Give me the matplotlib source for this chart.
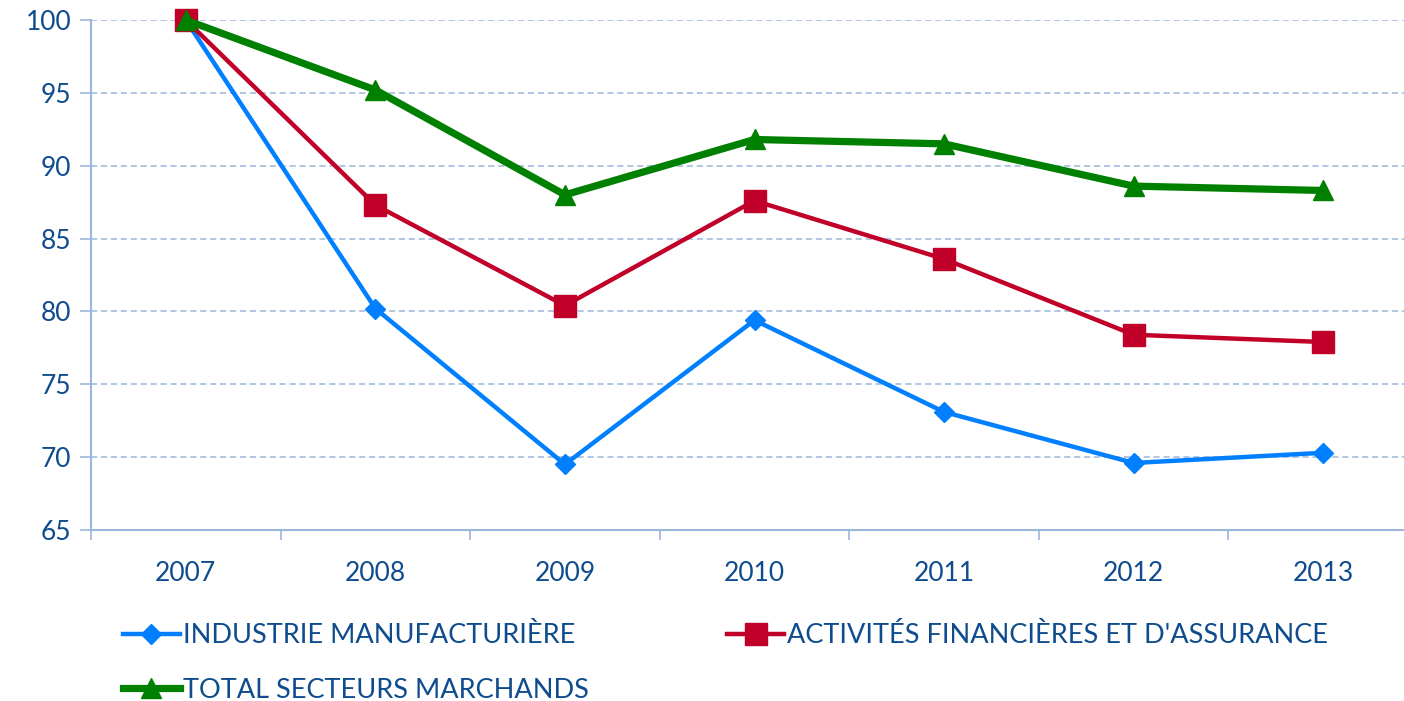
import matplotlib
matplotlib.use("Agg")
import matplotlib.pyplot as plt
import numpy as np

years = ["2007", "2008", "2009", "2010", "2011", "2012", "2013"]
industrie = [100, 80.2, 69.5, 79.4, 73.1, 69.6, 70.3]
financieres = [100, 87.3, 80.4, 87.6, 83.6, 78.4, 77.9]
total = [100, 95.2, 88.0, 91.8, 91.5, 88.6, 88.3]
labels = ["INDUSTRIE MANUFACTURIÈRE", "ACTIVITÉS FINANCIÈRES ET D'ASSURANCE",
          "TOTAL SECTEURS MARCHANDS"]

plt.rcParams['font.family'] = ['Lato', 'DejaVu Sans']
txt = '#0E4C8E'
grid_c = '#9DB5DA'

fig = plt.figure(figsize=(14.04, 7.01), dpi=100)
W, H = 1404, 701
ax = fig.add_axes([91 / W, 1 - 530 / H, (1418 - 91) / W, 510 / H])
ax.set_clip_on(False)

x = np.arange(len(years))
l1, = ax.plot(x, industrie, color='#0080FF', lw=3.2, marker='D', ms=10, zorder=3)
l2, = ax.plot(x, financieres, color='#C00028', lw=3.2, marker='s', ms=16, zorder=4)
l3, = ax.plot(x, total, color='#008000', lw=5.2, marker='^', ms=15, zorder=5)
for l in (l1, l2, l3):
    l.set_clip_on(False)

ax.set_xlim(-0.5, 6.5)
ax.set_ylim(65, 100)
ax.set_yticks(np.arange(65, 101, 5))
ax.set_xticks(x)
ax.set_xticklabels(years)
ax.set_xticks(np.arange(-0.5, 7, 1), minor=True)
ax.tick_params(axis='x', which='major', length=0, pad=22, labelsize=19, labelcolor=txt)
ax.tick_params(axis='x', which='minor', length=7, width=1.2, color=grid_c, direction='out')
ax.tick_params(axis='y', length=8, width=1.2, color=grid_c, labelsize=19, labelcolor=txt, pad=6)
ax.yaxis.grid(True, color=grid_c, ls=(0, (4, 2.5)), lw=1.1)
ax.set_axisbelow(True)
for s in ('top', 'right'):
    ax.spines[s].set_visible(False)
for s in ('left', 'bottom'):
    ax.spines[s].set_color(grid_c)
    ax.spines[s].set_linewidth(1.5)

# order so that rows read: industrie, financieres / total
leg = fig.legend([l1, l3, l2], [labels[0], labels[2], labels[1]], ncol=2, loc='upper left',
                 bbox_to_anchor=(123 / W, 1 - 623 / H), frameon=False,
                 borderpad=0, borderaxespad=0,
                 fontsize=19.5, labelcolor=txt, handlelength=2.1, handletextpad=0.12,
                 columnspacing=5.1, labelspacing=1.1)

fig.savefig('out.png', dpi=100)
